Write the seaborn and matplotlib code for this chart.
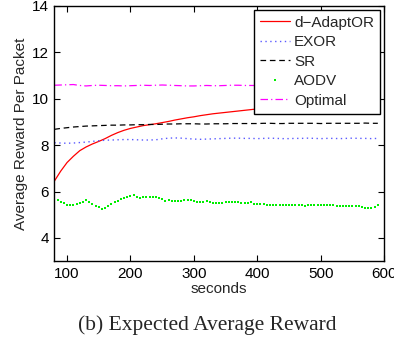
import numpy as np
import pandas as pd
import matplotlib
matplotlib.use("Agg")
import matplotlib.pyplot as plt
import seaborn as sns

# ---------------- data ----------------
t_line = list(range(80, 600, 10))  # 80..590

adaptor = [6.45, 6.88, 7.25, 7.52, 7.76, 7.92, 8.05, 8.16, 8.28, 8.42,
           8.54, 8.64, 8.72, 8.78, 8.84, 8.88, 8.92, 8.97, 9.02, 9.08,
           9.13, 9.18, 9.22, 9.27, 9.31, 9.35, 9.38, 9.41, 9.44, 9.47,
           9.50, 9.53, 9.56, 9.58, 9.61, 9.63, 9.65, 9.67, 9.69, 9.71,
           9.73, 9.75, 9.77, 9.79, 9.81, 9.83, 9.85, 9.87, 9.89, 9.91,
           9.93, 9.95]

exor = [8.10, 8.09, 8.08, 8.09, 8.11, 8.13, 8.16, 8.19, 8.21, 8.22,
        8.23, 8.24, 8.24, 8.23, 8.22, 8.22, 8.23, 8.27, 8.30, 8.31,
        8.30, 8.28, 8.26, 8.25, 8.26, 8.27, 8.28, 8.29, 8.30, 8.30,
        8.29, 8.29, 8.28, 8.29, 8.30, 8.29, 8.28, 8.28, 8.29, 8.29,
        8.30, 8.29, 8.28, 8.29, 8.29, 8.28, 8.29, 8.30, 8.29, 8.29,
        8.28, 8.29]

sr = [8.68, 8.72, 8.75, 8.78, 8.80, 8.82, 8.83, 8.84, 8.85, 8.86,
      8.86, 8.87, 8.87, 8.88, 8.88, 8.89, 8.89, 8.90, 8.91, 8.91,
      8.92, 8.92, 8.92, 8.91, 8.91, 8.92, 8.92, 8.92, 8.93, 8.93,
      8.93, 8.93, 8.93, 8.94, 8.94, 8.93, 8.93, 8.94, 8.94, 8.94,
      8.94, 8.94, 8.93, 8.94, 8.94, 8.94, 8.94, 8.94, 8.94, 8.95,
      8.94, 8.94]

optimal = [10.58, 10.59, 10.60, 10.61, 10.57, 10.55, 10.57, 10.58, 10.57, 10.56,
           10.56, 10.55, 10.56, 10.57, 10.58, 10.57, 10.58, 10.59, 10.58, 10.57,
           10.56, 10.55, 10.55, 10.56, 10.57, 10.56, 10.56, 10.57, 10.58, 10.58,
           10.57, 10.57, 10.57, 10.56, 10.57, 10.58, 10.57, 10.57, 10.56, 10.57,
           10.57, 10.58, 10.57, 10.57, 10.56, 10.57, 10.57, 10.58, 10.57, 10.57,
           10.57, 10.57]

t_aodv = list(range(85, 595, 5))  # 85..590
aodv = [5.62, 5.56, 5.50, 5.44, 5.40, 5.43, 5.46, 5.51, 5.57, 5.65,
        5.56, 5.46, 5.39, 5.33, 5.24, 5.30, 5.38, 5.46, 5.53, 5.60,
        5.66, 5.72, 5.77, 5.79, 5.83, 5.78, 5.74, 5.75, 5.76, 5.76,
        5.78, 5.76, 5.72, 5.67, 5.60, 5.64, 5.60, 5.58, 5.60, 5.61,
        5.62, 5.65, 5.64, 5.60, 5.54, 5.54, 5.56, 5.58, 5.56, 5.50,
        5.50, 5.50, 5.51, 5.53, 5.56, 5.56, 5.54, 5.53, 5.52, 5.50,
        5.51, 5.53, 5.47, 5.47, 5.47, 5.47, 5.42, 5.44, 5.41, 5.44,
        5.44, 5.42, 5.44, 5.44, 5.43, 5.40, 5.40, 5.40, 5.39, 5.40,
        5.41, 5.41, 5.40, 5.40, 5.41, 5.41, 5.40, 5.40, 5.38, 5.37,
        5.38, 5.38, 5.38, 5.37, 5.37, 5.36, 5.34, 5.29, 5.28, 5.29,
        5.32, 5.42]

labels = ["d\u2212AdaptOR", "EXOR", "SR", "AODV", "Optimal"]
x_ticks = [100, 200, 300, 400, 500, 600]
y_ticks = [4, 6, 8, 10, 12, 14]

# ---------------- style ----------------
sns.set_style("ticks")
plt.rcParams["font.family"] = ["Liberation Sans", "DejaVu Sans"]
plt.rcParams["axes.linewidth"] = 1.0

FS = 11

fig = plt.figure(figsize=(3.94, 3.45), dpi=100)
ax = fig.add_axes([0.138, 0.243, 0.837, 0.740])

df_line = pd.DataFrame({"t": t_line, "adaptor": adaptor, "exor": exor,
                        "sr": sr, "optimal": optimal})
df_aodv = pd.DataFrame({"t": t_aodv, "aodv": aodv})

sns.lineplot(data=df_line, x="t", y="adaptor", ax=ax, color="#ff0000",
             linewidth=0.9, label=labels[0])
sns.lineplot(data=df_line, x="t", y="exor", ax=ax, color="#5a5aff",
             linestyle=(0, (1, 2.5)), linewidth=1.0, label=labels[1])
sns.lineplot(data=df_line, x="t", y="sr", ax=ax, color="black",
             linestyle=(0, (4.5, 3)), linewidth=0.9, label=labels[2])
sns.lineplot(data=df_aodv, x="t", y="aodv", ax=ax, color="#00ee00",
             linestyle="none", marker="s", markersize=2.0,
             markeredgewidth=0, label=labels[3])
sns.lineplot(data=df_line, x="t", y="optimal", ax=ax, color="#ff00ff",
             linestyle=(0, (6, 2.5, 1, 2.5)), linewidth=0.9, label=labels[4])

ax.set_xlim(80, 600)
ax.set_ylim(3, 14)
ax.set_xticks(x_ticks)
ax.set_yticks(y_ticks)
ax.tick_params(direction="in", top=True, right=True, length=4, width=0.8,
               labelsize=FS, colors="black", pad=4)
for s in ax.spines.values():
    s.set_color("black")
    s.set_linewidth(1.0)

ax.set_xlabel("seconds", fontsize=FS, labelpad=1)
ax.set_ylabel("Average Reward Per Packet", fontsize=FS, labelpad=3)

leg = ax.legend(loc="upper right", fontsize=FS, frameon=True, fancybox=False,
                framealpha=1, edgecolor="black", borderaxespad=0.25,
                handlelength=2.0, handletextpad=0.25, labelspacing=0.36,
                borderpad=0.4, markerscale=1.0)
leg.get_frame().set_linewidth(1.0)

fig.text(0.525, 0.058, "(b) Expected Average Reward", ha="center",
         va="center", fontsize=15.5, family=["Liberation Serif", "DejaVu Serif"])

fig.savefig("out.png", dpi=100)
